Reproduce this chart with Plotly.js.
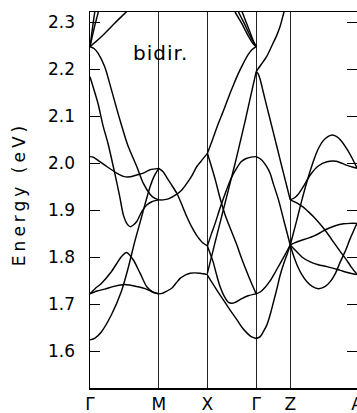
<!DOCTYPE html>
<html><head><meta charset="utf-8">
<script src="https://cdn.plot.ly/plotly-3.0.1.min.js"></script>
<style>html,body{margin:0;padding:0;background:#fff;} #chart{width:357px;height:413px;}</style>
</head><body><div id="chart"></div>
<script>
// symmetry points along the k-path
const kSym = [0, 68.7, 117.3, 166, 200, 266.7];
const symLabels = ['Γ', 'M', 'X', 'Γ', 'Z', 'A'];
const yTicks = [1.6, 1.7, 1.8, 1.9, 2.0, 2.1, 2.2, 2.3];
const yTickText = ['1.6', '1.7', '1.8', '1.9', '2.0', '2.1', '2.2', '2.3'];

// band pieces, [k, E(eV)]
// Γ–M
const gmA = [[0,1.624],[5,1.628],[11.3,1.641],[21.3,1.677],[31.3,1.727],[38,1.776],[44.7,1.833],[51.3,1.884],[55,1.913],[60,1.95],[64,1.972],[68.7,1.989]];
const gmB = [[0,1.722],[5,1.733],[11.3,1.744],[21.3,1.769],[31.3,1.801],[36.5,1.810],[43.3,1.794],[50,1.766],[56.7,1.737],[63.3,1.725],[68.7,1.722]];
const gmC = [[0,1.722],[7,1.728],[14.7,1.732],[24,1.738],[34.7,1.742],[48,1.737],[55,1.733],[61.3,1.727],[68.7,1.722]];
const gmD = [[0,2.014],[3,2.013],[6.7,2.008],[16.7,1.993],[26.7,1.979],[33.3,1.972],[40,1.971],[46.7,1.975],[53.3,1.979],[60,1.986],[68.7,1.989]];
const gmE = [[0,2.248],[4,2.244],[8,2.234],[14.7,2.205],[21.3,2.157],[28,2.106],[34.7,2.058],[38.3,2.035],[46.7,1.993],[53.3,1.957],[60,1.934],[64,1.926],[68.7,1.922]];
const gmF = [[0,2.184],[8,2.127],[13,2.08],[18,2.042],[24.7,1.979],[29.7,1.929],[33.3,1.89],[37,1.871],[40,1.865],[43,1.868],[46.7,1.876],[51.7,1.897],[56.7,1.911],[61.7,1.918],[68.7,1.922]];
const gmG = [[0,2.248],[5,2.257],[11.3,2.269],[24.7,2.298],[36.3,2.322],[40,2.33]];
const gmH1 = [[0,2.248],[1.5,2.272],[3,2.296],[4.5,2.318],[5.5,2.332]];
const gmH2 = [[0,2.248],[2.5,2.272],[5,2.295],[7.5,2.315],[9,2.33]];
// M–X
const mxA = [[68.7,1.989],[73,1.982],[78.3,1.964],[82,1.952],[86.7,1.936],[91.7,1.912],[96.7,1.886],[101.7,1.864],[106.7,1.846],[112,1.832],[117.3,1.824]];
const mxB = [[68.7,1.922],[73,1.922],[78.3,1.924],[86.7,1.934],[91.7,1.943],[96.7,1.957],[101.7,1.973],[106.7,1.993],[112,2.007],[117.3,2.021]];
const mxC = [[68.7,1.722],[72,1.723],[75,1.726],[81.7,1.734],[86,1.745],[90,1.755],[95,1.762],[100,1.766],[110,1.766],[117.3,1.763]];
// X–Γ
const xgA = [[117.3,2.021],[122,2.048],[128.3,2.085],[133,2.11],[138.3,2.14],[143,2.165],[148,2.19],[153,2.212],[158.3,2.232],[162,2.242],[166,2.248]];
const xgB = [[117.3,2.021],[121,1.995],[125,1.966],[130,1.925],[135,1.89],[140,1.862],[146.7,1.826],[151,1.8],[156,1.772],[161,1.746],[166,1.722]];
const xgC = [[117.3,1.824],[120,1.808],[123,1.79],[126.5,1.762],[130,1.737],[134,1.717],[138.3,1.704],[142,1.702],[145,1.704],[151.7,1.712],[158,1.718],[166,1.722]];
const xgD = [[117.3,1.762],[121,1.749],[126.7,1.730],[131.7,1.714],[136.7,1.698],[141.7,1.682],[146.7,1.667],[151.7,1.651],[156.7,1.639],[161,1.631],[166,1.627]];
const xgE = [[117.3,1.766],[125,1.832],[130,1.874],[135,1.916],[140,1.958],[145,2.0],[150,2.045],[155,2.09],[160,2.138],[166,2.195]];
const xgF = [[117.3,1.824],[121,1.848],[125,1.872],[130,1.905],[136.7,1.945],[141,1.968],[146.7,1.99],[151,2.003],[156,2.01],[161,2.013],[166,2.014]];
const tb1 = [[144,2.33],[145,2.322],[151.7,2.297],[158.3,2.27],[163,2.254],[166,2.248]];
const tb2 = [[147.5,2.33],[148.3,2.322],[154,2.298],[159.5,2.273],[163.5,2.257],[166,2.248]];
const tb3 = [[151,2.33],[152,2.322],[156.5,2.297],[161,2.272],[164,2.256],[166,2.248]];
// Γ–Z
const gzE = [[166,2.195],[171,2.21],[176.7,2.228],[181.7,2.25],[186.7,2.273],[190,2.292],[193.3,2.318],[196,2.34]];
const gzG = [[166,2.195],[168,2.19],[170,2.178],[173,2.152],[176.7,2.12],[180,2.092],[186.7,2.035],[191.7,1.992],[196.7,1.95],[200,1.922]];
const gzF = [[166,2.014],[171,2.008],[176.7,1.992],[180,1.978],[183.3,1.955],[188.3,1.922],[194,1.875],[200,1.826]];
const gzH = [[166,1.722],[170,1.726],[175,1.736],[180,1.75],[185,1.768],[190,1.787],[195,1.806],[200,1.826]];
const gzI = [[166,1.627],[170,1.631],[173,1.641],[176.7,1.656],[180,1.678],[183.3,1.705],[186.7,1.733],[190,1.762],[193.3,1.785],[196.7,1.805],[200,1.826]];
// Z–A
const zaA = [[200,1.922],[206,1.916],[213.3,1.906],[218,1.897],[223.3,1.886],[230,1.87],[236.7,1.852],[243.3,1.832],[250,1.812],[256,1.795],[261,1.779],[266.7,1.764]];
const zaUp = [[200,1.922],[204,1.926],[208,1.934],[213,1.95],[220,1.975],[228,1.994],[236.7,2.003],[246,2.004],[256,1.996],[266.7,1.989]];
const zaPeak = [[200,1.826],[203,1.85],[206.7,1.88],[211.7,1.922],[218,1.97],[223.3,2.005],[227,2.026],[233,2.048],[238,2.057],[242,2.06],[246,2.057],[250,2.05],[256.7,2.03],[262,2.01],[266.7,1.99]];
const zaB = [[200,1.826],[205,1.831],[210,1.835],[217,1.84],[223.3,1.845],[230,1.852],[236.7,1.86],[245,1.867],[253.3,1.871],[260,1.872],[266.7,1.872]];
const zaC = [[200,1.826],[205,1.815],[212,1.80],[220,1.79],[228,1.784],[236.7,1.78],[250,1.772],[258,1.767],[266.7,1.763]];
const zaD = [[200,1.826],[203,1.805],[206.7,1.784],[211,1.765],[216.7,1.748],[222,1.738],[228.3,1.733],[235,1.738],[240,1.748],[245,1.765],[250,1.79],[255,1.813],[260,1.84],[266.7,1.872]];

const bands = [gmA, gmB, gmC, gmD, gmE, gmF, gmG, gmH1, gmH2,
  mxA, mxB, mxC,
  xgA, xgB, xgC, xgD, xgE, xgF, tb1, tb2, tb3,
  gzE, gzG, gzF, gzH, gzI,
  zaA, zaUp, zaPeak, zaB, zaC, zaD];

const traces = bands.map(b => ({
  x: b.map(p => p[0]), y: b.map(p => p[1]),
  mode: 'lines', type: 'scatter', hoverinfo: 'skip', showlegend: false,
  line: {color: '#000', width: 1.45, shape: 'spline', smoothing: 0.7}
}));

const layout = {
  width: 357, height: 413,
  margin: {l: 90, r: 0, t: 12, b: 25, pad: 0},
  paper_bgcolor: '#fff', plot_bgcolor: '#fff',
  font: {family: 'DejaVu Sans, sans-serif', color: '#000', size: 17},
  showlegend: false,
  xaxis: {
    range: [0, 266.7], tickmode: 'array', tickvals: kSym, ticktext: symLabels,
    ticks: '', showgrid: true, gridcolor: '#222', gridwidth: 1,
    showline: true, linecolor: '#000', linewidth: 1.5, mirror: true,
    zeroline: false, tickfont: {size: 17, family: 'DejaVu Sans, sans-serif'},
    ticklabelstandoff: 0, ticklabeloverflow: 'allow', fixedrange: true
  },
  yaxis: {
    range: [1.5217, 2.3217], tickmode: 'array', tickvals: yTicks, ticktext: yTickText,
    ticks: 'inside', ticklen: 10, tickwidth: 1.2, tickcolor: '#000',
    showgrid: false, zeroline: false,
    showline: true, linecolor: '#000', linewidth: 1.5, mirror: 'ticks',
    tickfont: {size: 17, family: 'DejaVu Sans, sans-serif'},
    ticklabelstandoff: 10,
    title: {text: 'Energy (eV)', font: {size: 17, family: 'DejaVu Sans, sans-serif'}, standoff: 18},
    fixedrange: true
  },
  annotations: [{
    text: 'bidir.', xref: 'paper', yref: 'paper', x: 0.165, y: 0.891,
    xanchor: 'left', yanchor: 'middle', showarrow: false,
    font: {size: 20, family: 'DejaVu Sans, sans-serif', color: '#000'}
  }]
};

Plotly.newPlot('chart', traces, layout, {staticPlot: true, displayModeBar: false}).then(gd => {
  const t = gd.querySelector('.ytitle');
  if (t) { t.style.letterSpacing = '4px'; t.setAttribute('dx', '6'); }
  const a = gd.querySelector('.annotation-text');
  if (a) a.style.letterSpacing = '1px';
});
</script></body></html>
